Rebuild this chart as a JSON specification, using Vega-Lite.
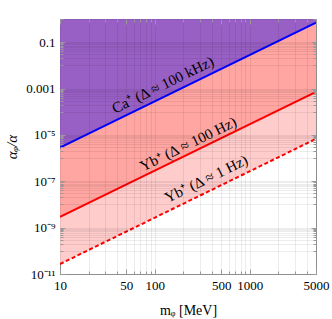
{
  "$schema": "https://vega.github.io/schema/vega-lite/v6.json",
  "width": 256,
  "height": 255,
  "autosize": {"type": "none"},
  "padding": {"left": 60, "top": 19, "right": 16, "bottom": 45},
  "background": "white",
  "config": {
    "view": {"stroke": "#999999", "strokeWidth": 1},
    "font": "Liberation Serif"
  },
  "datasets": {
    "lines": [
      {"m": 10, "ca": 2.8e-6, "yb100": 2.9e-9, "yb1": 2.7e-11, "top": 1},
      {"m": 5000, "ca": 0.7, "yb100": 7.25e-4, "yb1": 6.75e-6, "top": 1}
    ],
    "labels": [
      {"m": 128, "a": 9.3e-4, "t": "Ca⁺ (Δ ≈ 100 kHz)"},
      {"m": 237, "a": 2.6e-6, "t": "Yb⁺ (Δ ≈ 100 Hz)"},
      {"m": 367, "a": 8.2e-8, "t": "Yb⁺ (Δ ≈ 1 Hz)"}
    ]
  },
  "resolve": {"axis": {"x": "independent", "y": "independent"}},
  "layer": [
    {
      "data": {"name": "lines"},
      "mark": {"type": "area", "color": "#985FC4", "clip": true},
      "encoding": {
        "x": {
          "field": "m", "type": "quantitative",
          "scale": {"type": "log", "domain": [10, 5000], "nice": false},
          "axis": {
            "orient": "bottom",
            "values": [10,20,30,40,50,60,70,80,90,100,200,300,400,500,600,700,800,900,1000,2000,3000,4000,5000],
            "grid": true, "gridColor": "#000000", "gridOpacity": 0.07, "gridWidth": 1,
            "domain": false,
            "ticks": true, "tickColor": "#999999",
            "tickSize": {"condition": {"test": "indexof([10,50,100,500,1000,5000], datum.value) >= 0", "value": -5}, "value": -3},
            "labelExpr": "indexof([10,50,100,500,1000,5000], datum.value) >= 0 ? format(datum.value, 'd') : ''",
            "labelOverlap": false, "labelFlush": false, "labelBound": false,
            "labelFont": "Liberation Serif", "labelFontSize": 13, "labelColor": "#000000", "labelPadding": 10,
            "title": "mᵩ [MeV]", "titleFont": "Liberation Serif", "titleFontSize": 14, "titleFontWeight": "normal", "titleColor": "#000000", "titlePadding": 9,
            "zindex": 1
          }
        },
        "y": {
          "field": "ca", "type": "quantitative",
          "scale": {"type": "log", "domain": [1e-11, 1], "nice": false},
          "axis": {
            "orient": "left",
            "values": [1e-11,1e-10,2e-10,3e-10,4e-10,5e-10,6e-10,7e-10,8e-10,9e-10,1e-9,1e-8,2e-8,3e-8,4e-8,5e-8,6e-8,7e-8,8e-8,9e-8,1e-7,1e-6,2e-6,3e-6,4e-6,5e-6,6e-6,7e-6,8e-6,9e-6,1e-5,1e-4,2e-4,3e-4,4e-4,5e-4,6e-4,7e-4,8e-4,9e-4,0.001,0.01,0.02,0.03,0.04,0.05,0.06,0.07,0.08,0.09,0.1,1],
            "grid": true, "gridColor": "#000000", "gridOpacity": 0.07, "gridWidth": 1,
            "domain": false,
            "ticks": true, "tickColor": "#999999",
            "tickSize": {"condition": {"test": "indexof([1e-11,1e-9,1e-7,1e-5,0.001,0.1], datum.value) >= 0", "value": -5}, "value": -3},
            "labelExpr": "datum.value == 0.1 ? '0.1' : datum.value == 0.001 ? '0.001' : datum.value == 1e-5 ? '10⁻⁵' : datum.value == 1e-7 ? '10⁻⁷' : datum.value == 1e-9 ? '10⁻⁹' : datum.value == 1e-11 ? '10⁻¹¹' : ''",
            "labelOverlap": false, "labelFlush": false, "labelBound": false,
            "labelFont": "Liberation Serif", "labelFontSize": 13, "labelColor": "#000000", "labelPadding": 10,
            "title": "αᵩ/α", "titleFont": "Liberation Serif", "titleFontSize": 15, "titleFontStyle": "italic", "titleFontWeight": "normal", "titleColor": "#000000", "titlePadding": 6,
            "zindex": 1
          }
        },
        "y2": {"field": "top"}
      }
    },
    {
      "data": {"name": "lines"},
      "mark": {"type": "area", "color": "#FFA6A3", "clip": true},
      "encoding": {
        "x": {"field": "m", "type": "quantitative", "scale": {"type": "log", "domain": [10, 5000], "nice": false}, "axis": null},
        "y": {"field": "yb100", "type": "quantitative", "scale": {"type": "log", "domain": [1e-11, 1], "nice": false}, "axis": null},
        "y2": {"field": "ca"}
      }
    },
    {
      "data": {"name": "lines"},
      "mark": {"type": "area", "color": "#FFCCCC", "clip": true},
      "encoding": {
        "x": {"field": "m", "type": "quantitative", "scale": {"type": "log", "domain": [10, 5000], "nice": false}, "axis": null},
        "y": {"field": "yb1", "type": "quantitative", "scale": {"type": "log", "domain": [1e-11, 1], "nice": false}, "axis": null},
        "y2": {"field": "yb100"}
      }
    },
    {
      "data": {"name": "lines"},
      "mark": {"type": "line", "color": "#0000FF", "strokeWidth": 2, "clip": true},
      "encoding": {
        "x": {"field": "m", "type": "quantitative", "scale": {"type": "log", "domain": [10, 5000], "nice": false}, "axis": null},
        "y": {"field": "ca", "type": "quantitative", "scale": {"type": "log", "domain": [1e-11, 1], "nice": false}, "axis": null}
      }
    },
    {
      "data": {"name": "lines"},
      "mark": {"type": "line", "color": "#FF0000", "strokeWidth": 2, "clip": true},
      "encoding": {
        "x": {"field": "m", "type": "quantitative", "scale": {"type": "log", "domain": [10, 5000], "nice": false}, "axis": null},
        "y": {"field": "yb100", "type": "quantitative", "scale": {"type": "log", "domain": [1e-11, 1], "nice": false}, "axis": null}
      }
    },
    {
      "data": {"name": "lines"},
      "mark": {"type": "line", "color": "#FF0000", "strokeWidth": 2, "strokeDash": [4, 2.5], "clip": true},
      "encoding": {
        "x": {"field": "m", "type": "quantitative", "scale": {"type": "log", "domain": [10, 5000], "nice": false}, "axis": null},
        "y": {"field": "yb1", "type": "quantitative", "scale": {"type": "log", "domain": [1e-11, 1], "nice": false}, "axis": null}
      }
    },
    {
      "data": {"name": "labels"},
      "mark": {"type": "text", "angle": -26, "align": "center", "baseline": "alphabetic", "font": "Liberation Serif", "fontSize": 15, "color": "#000000"},
      "encoding": {
        "x": {"field": "m", "type": "quantitative", "scale": {"type": "log", "domain": [10, 5000], "nice": false}, "axis": null},
        "y": {"field": "a", "type": "quantitative", "scale": {"type": "log", "domain": [1e-11, 1], "nice": false}, "axis": null},
        "text": {"field": "t"}
      }
    },
    {
      "data": {"name": "lines"},
      "mark": {"type": "point", "opacity": 0},
      "encoding": {
        "x": {
          "field": "m", "type": "quantitative",
          "scale": {"type": "log", "domain": [10, 5000], "nice": false},
          "axis": {
            "orient": "top",
            "values": [10,20,30,40,50,60,70,80,90,100,200,300,400,500,600,700,800,900,1000,2000,3000,4000,5000],
            "grid": false, "domain": false, "labels": false, "title": null,
            "ticks": true, "tickColor": "#999999",
            "tickSize": {"condition": {"test": "indexof([10,50,100,500,1000,5000], datum.value) >= 0", "value": -5}, "value": -3},
            "zindex": 1
          }
        },
        "y": {
          "field": "ca", "type": "quantitative",
          "scale": {"type": "log", "domain": [1e-11, 1], "nice": false},
          "axis": {
            "orient": "right",
            "values": [1e-11,1e-10,2e-10,3e-10,4e-10,5e-10,6e-10,7e-10,8e-10,9e-10,1e-9,1e-8,2e-8,3e-8,4e-8,5e-8,6e-8,7e-8,8e-8,9e-8,1e-7,1e-6,2e-6,3e-6,4e-6,5e-6,6e-6,7e-6,8e-6,9e-6,1e-5,1e-4,2e-4,3e-4,4e-4,5e-4,6e-4,7e-4,8e-4,9e-4,0.001,0.01,0.02,0.03,0.04,0.05,0.06,0.07,0.08,0.09,0.1,1],
            "grid": false, "domain": false, "labels": false, "title": null,
            "ticks": true, "tickColor": "#999999",
            "tickSize": {"condition": {"test": "indexof([1e-11,1e-9,1e-7,1e-5,0.001,0.1], datum.value) >= 0", "value": -5}, "value": -3},
            "zindex": 1
          }
        }
      }
    }
  ]
}
